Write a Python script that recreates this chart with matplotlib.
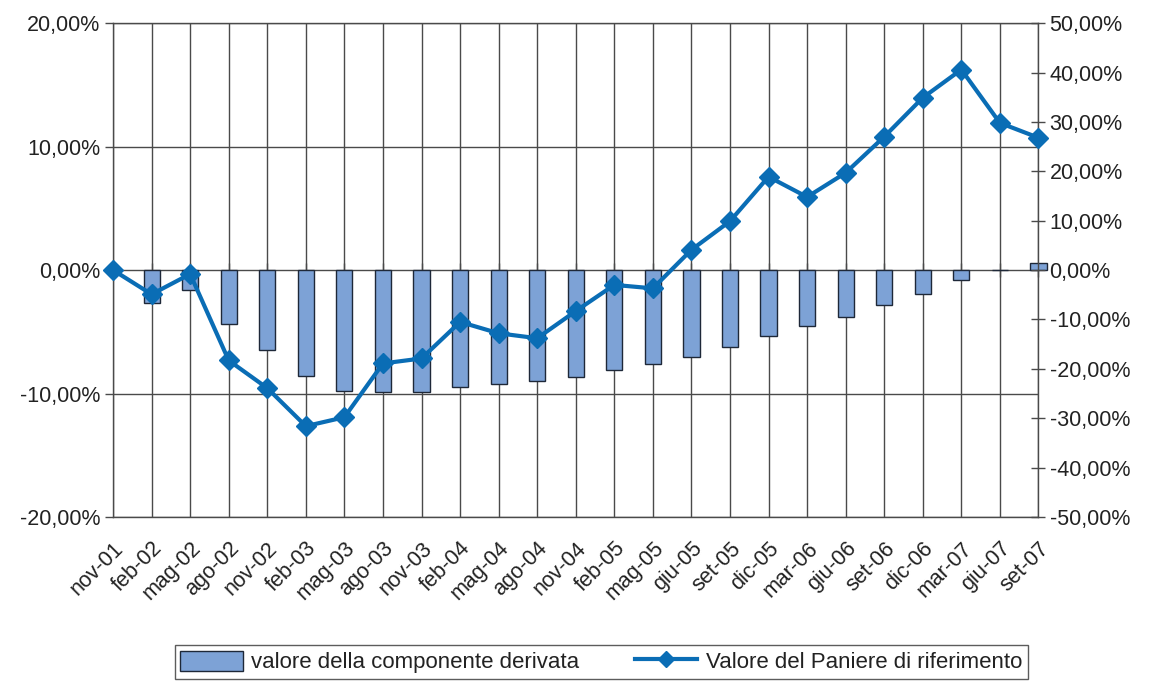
import matplotlib.pyplot as plt
from matplotlib.patches import Patch
from matplotlib.lines import Line2D
from matplotlib.ticker import FuncFormatter
import numpy as np

plt.rcParams['font.family'] = ['Liberation Sans', 'DejaVu Sans']

periods = ["nov-01", "feb-02", "mag-02", "ago-02", "nov-02", "feb-03", "mag-03",
           "ago-03", "nov-03", "feb-04", "mag-04", "ago-04", "nov-04", "feb-05",
           "mag-05", "giu-05", "set-05", "dic-05", "mar-06", "giu-06", "set-06",
           "dic-06", "mar-07", "giu-07", "set-07"]

# valore della componente derivata (asse sinistro, %)
derivata = [0.0, -2.7, -1.6, -4.4, -6.5, -8.6, -9.8, -9.9, -9.9, -9.5, -9.2, -9.0,
            -8.7, -8.1, -7.6, -7.0, -6.2, -5.3, -4.5, -3.8, -2.8, -1.9, -0.8, 0.0, 0.6]

# valore del paniere di riferimento (asse destro, %)
paniere = [0.0, -4.9, -0.8, -18.3, -23.9, -31.6, -29.8, -18.9, -17.9, -10.5, -12.8,
           -13.8, -8.3, -3.0, -3.7, 4.1, 9.9, 18.9, 14.8, 19.7, 27.0, 34.9, 40.6,
           29.8, 26.8]

BAR_COLOR = "#7DA2D6"
BAR_EDGE = "#1E2838"
LINE_COLOR = "#0A6DB5"
GRID_COLOR = "#4A4A4A"


def pct(v, pos=None):
    return ("%.2f%%" % v).replace(".", ",")


fig = plt.figure(figsize=(11.5, 6.81), dpi=100)
fig.subplots_adjust(left=0.0983, right=0.903, top=0.966, bottom=0.2408)
ax = fig.add_subplot(111)

x = np.arange(len(periods))

ax.set_axisbelow(True)
ax.bar(x, derivata, width=0.42, color=BAR_COLOR, edgecolor=BAR_EDGE,
       linewidth=1.0, clip_on=False, zorder=2)

ax.set_xlim(0, len(periods) - 1)
ax.set_ylim(-20, 20)
ax.set_yticks(np.arange(-20, 21, 10))
ax.yaxis.set_major_formatter(FuncFormatter(pct))
ax.set_xticks(x)
ax.set_xticklabels(periods, rotation=45, ha="right", rotation_mode="anchor")
ax.grid(True, color=GRID_COLOR, linewidth=1.0)
ax.tick_params(axis="x", length=0, pad=15, labelsize=15.5, colors="#222222")
ax.tick_params(axis="y", direction="out", length=6, width=1, color=GRID_COLOR,
               labelsize=15.5, labelcolor="#222222", pad=3)
for s in ax.spines.values():
    s.set_color(GRID_COLOR)
    s.set_linewidth(1.0)
ax.spines["right"].set_visible(False)

# tick marks on the category axis crossing at 0
sec = ax.secondary_xaxis(0.5)
sec.set_xticks(x)
sec.set_xticklabels([])
sec.tick_params(direction="inout", length=10, width=1, color=GRID_COLOR)
sec.spines["bottom"].set_visible(False)
sec.spines["top"].set_visible(False)

ax2 = ax.twinx()
ax2.plot(x, paniere, color=LINE_COLOR, linewidth=3, marker="D", markersize=10,
         clip_on=False, zorder=5)
ax2.set_ylim(-50, 50)
ax2.set_yticks(np.arange(-50, 51, 10))
ax2.yaxis.set_major_formatter(FuncFormatter(pct))
ax2.tick_params(axis="y", direction="inout", length=10, width=1, color=GRID_COLOR,
                labelsize=15.5, labelcolor="#222222", pad=3)
for s in ax2.spines.values():
    s.set_visible(False)
ax2.spines["right"].set_visible(True)
ax2.spines["right"].set_color(GRID_COLOR)
ax2.spines["right"].set_linewidth(1.0)

handles = [Patch(facecolor=BAR_COLOR, edgecolor=BAR_EDGE, linewidth=1.0),
           Line2D([0], [0], color=LINE_COLOR, linewidth=3, marker="D", markersize=8)]
labels = ["valore della componente derivata", "Valore del Paniere di riferimento"]
leg = fig.legend(handles, labels, loc="center", bbox_to_anchor=(0.523, 0.028), ncol=2,
                 fontsize=16, frameon=True, fancybox=False, edgecolor="#333333",
                 handlelength=2.8, handleheight=1.0, columnspacing=2.5,
                 handletextpad=0.4, borderpad=0.25, labelcolor="#222222")
leg.get_frame().set_linewidth(1.0)

fig.savefig("out.png", dpi=100)
